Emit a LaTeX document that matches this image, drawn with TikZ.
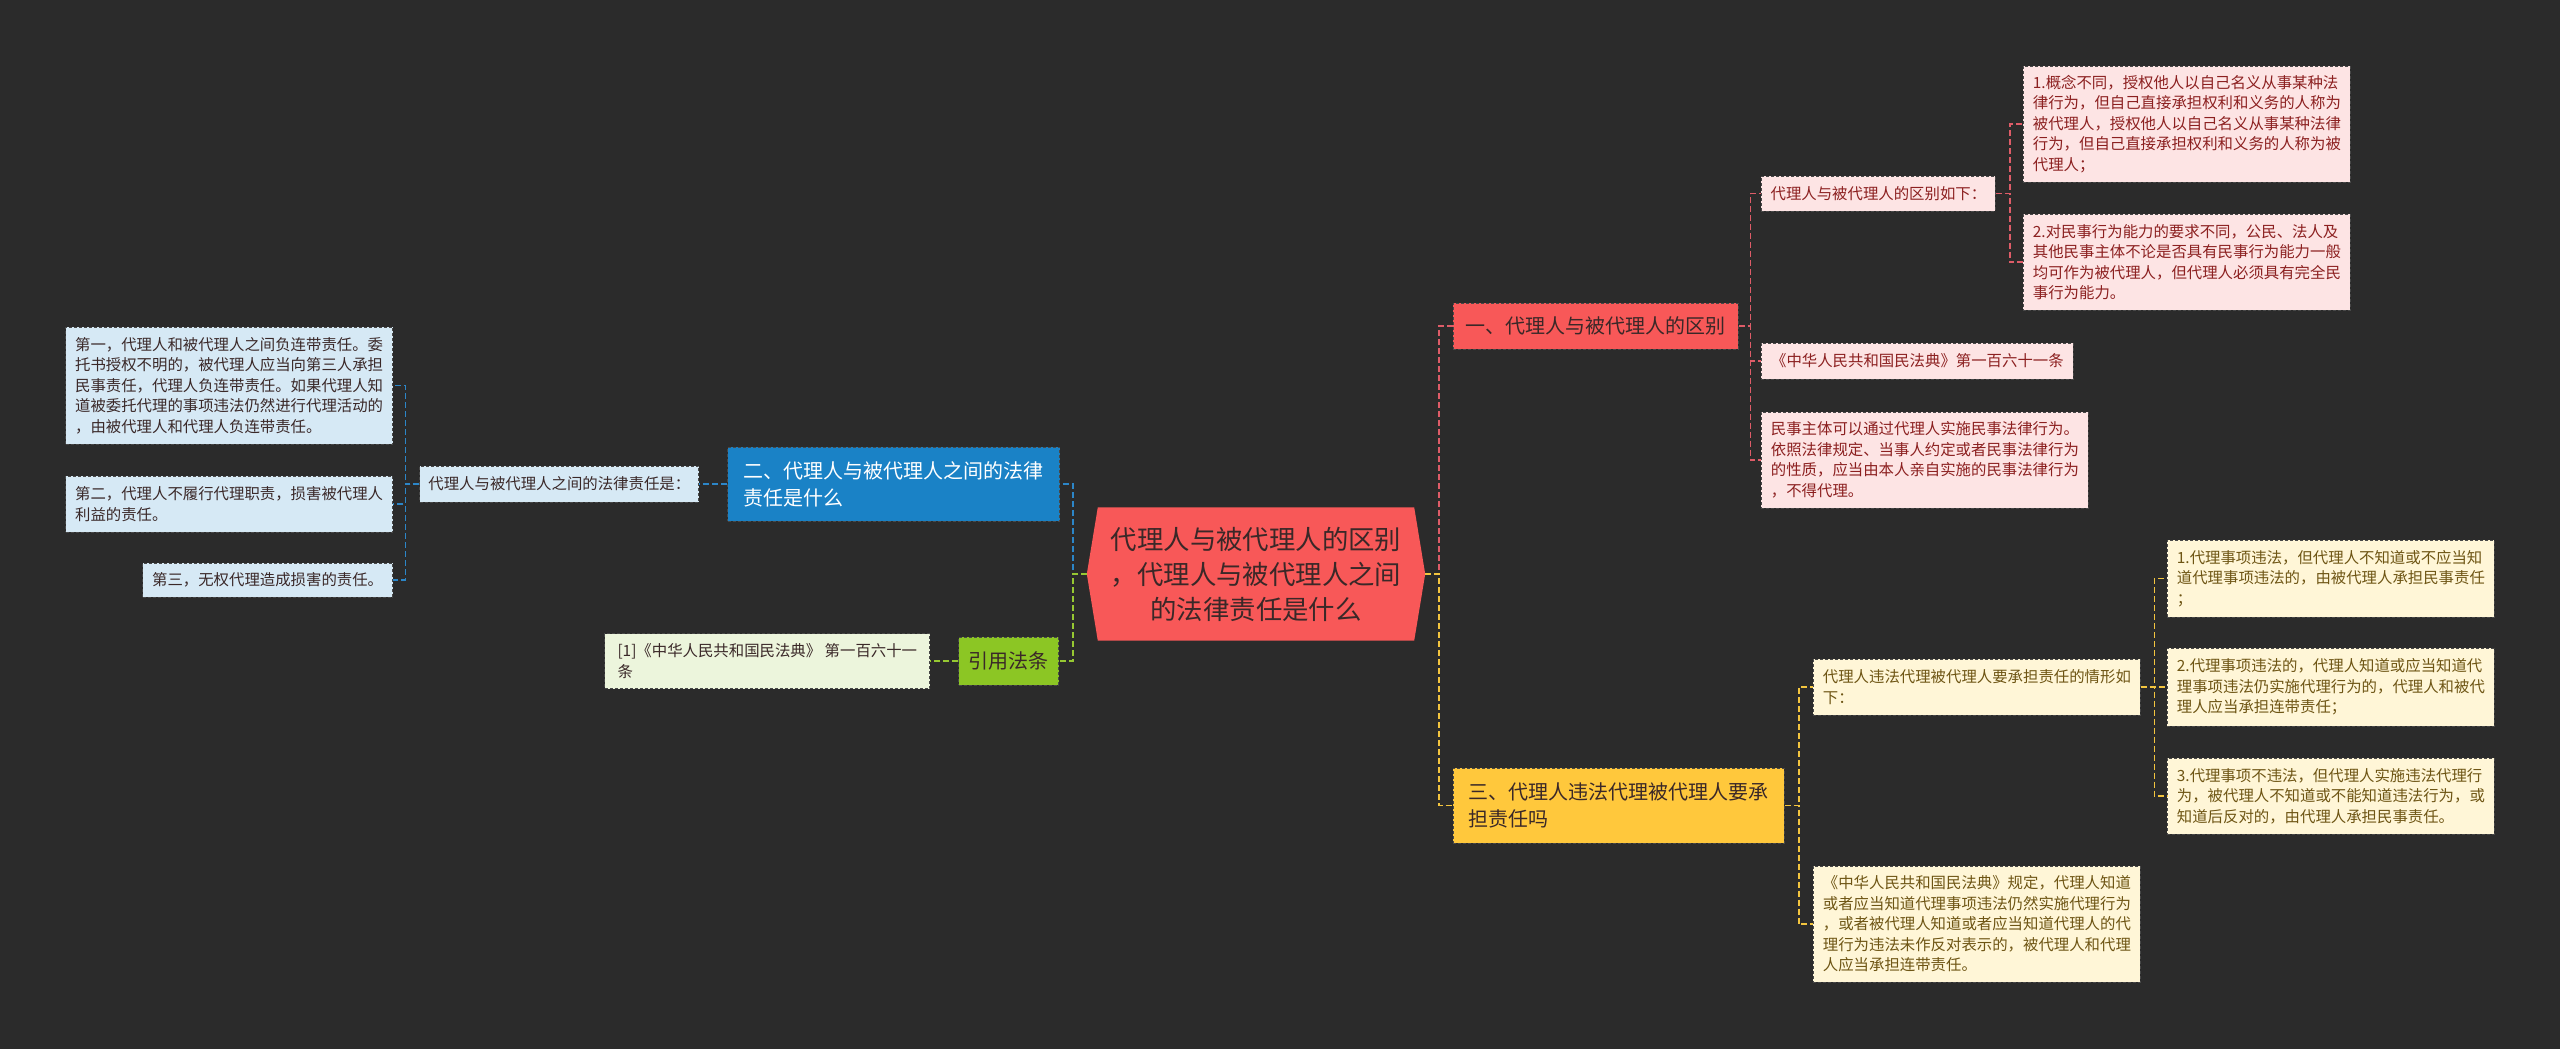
\documentclass[tikz,border=0pt]{standalone}
\usepackage{fontspec}
\setmainfont{Noto Sans CJK SC}
\usetikzlibrary{positioning}
\usetikzlibrary{backgrounds}
\definecolor{figFondo}{RGB}{43,43,43}
\definecolor{figTexto}{RGB}{58,40,40}
\definecolor{figBorde}{RGB}{72,72,72}
\definecolor{figRojo}{RGB}{248,88,88}
\definecolor{figRojoClaro}{RGB}{253,228,228}
\definecolor{figRojoTexto}{RGB}{140,32,32}
\definecolor{figRojoLinea}{RGB}{222,92,104}
\definecolor{figAzul}{RGB}{26,130,198}
\definecolor{figAzulClaro}{RGB}{214,233,245}
\definecolor{figAzulLinea}{RGB}{44,134,200}
\definecolor{figVerde}{RGB}{140,198,36}
\definecolor{figVerdeClaro}{RGB}{236,245,220}
\definecolor{figVerdeLinea}{RGB}{150,200,50}
\definecolor{figAmarillo}{RGB}{255,200,60}
\definecolor{figAmarilloClaro}{RGB}{255,246,215}
\definecolor{figAmarilloTexto}{RGB}{110,85,20}
\definecolor{figAmarilloLinea}{RGB}{243,197,63}
\tikzset{
  caja/.style={
    rectangle, draw=figBorde, dash pattern=on 3pt off 2pt, line width=0.8pt,
    align=left, inner sep=3pt
  },
  raiz/.style={
    rectangle, minimum width=338pt, minimum height=133pt, inner sep=2pt,
    align=center, text=figTexto, font=\fontsize{26.4}{35}\selectfont
  },
  rama/.style={caja, minimum height=46pt, text=figTexto, font=\fontsize{20}{27}\selectfont},
  ramar/.style={rama, fill=figRojo},
  ramaa/.style={rama, fill=figAzul, text=white},
  ramav/.style={rama, fill=figVerde},
  ramam/.style={rama, fill=figAmarillo},
  hoja/.style={caja, minimum width=327pt, font=\fontsize{15.4}{20.5}\selectfont},
  hojar/.style={hoja, fill=figRojoClaro, text=figRojoTexto},
  hojaa/.style={hoja, fill=figAzulClaro, text=figTexto},
  hojav/.style={hoja, fill=figVerdeClaro, text=figTexto},
  hojam/.style={hoja, fill=figAmarilloClaro, text=figAmarilloTexto},
  linea/.style={line width=1.5pt, dash pattern=on 6pt off 3pt},
  linear/.style={linea, draw=figRojoLinea},
  lineaa/.style={linea, draw=figAzulLinea},
  lineav/.style={linea, draw=figVerdeLinea},
  lineam/.style={linea, draw=figAmarilloLinea}
}
\begin{document}
\begin{tikzpicture}[x=1pt, y=-1pt]
  \useasboundingbox (0,0) rectangle (2560,1049);
  \begin{scope}[on background layer]
    \fill[figFondo] (0,0) rectangle (2560,1049);
  \end{scope}

  % Tema central
  \node[raiz] (raiz) at (1256,574) {代理人与被代理人的区别\\，代理人与被代理人之间\\的法律责任是什么};
  \begin{scope}[on background layer]
    \fill[figRojo] (raiz.west) -- ([xshift=11pt]raiz.north west) -- ([xshift=-11pt]raiz.north east)
      -- (raiz.east) -- ([xshift=-11pt]raiz.south east) -- ([xshift=11pt]raiz.south west) -- cycle;
  \end{scope}

  % Rama 1: diferencias
  \node[ramar, minimum width=285pt, anchor=west] (dif) at (1453,326) {一、代理人与被代理人的区别};
  \node[hojar, minimum width=234pt, minimum height=35pt, anchor=west] (difComo) at (1761,193.5) {代理人与被代理人的区别如下：};
  \node[hojar, minimum height=116pt, anchor=west] (difUno) at (2023,124)
        {1.概念不同，授权他人以自己名义从事某种法\\律行为，但自己直接承担权利和义务的人称为\\被代理人，授权他人以自己名义从事某种法律\\行为，但自己直接承担权利和义务的人称为被\\代理人；};
  \node[hojar, minimum height=96pt, anchor=west] (difDos) at (2023,262)
        {2.对民事行为能力的要求不同，公民、法人及\\其他民事主体不论是否具有民事行为能力一般\\均可作为被代理人，但代理人必须具有完全民\\事行为能力。};
  \node[hojar, minimum width=312pt, minimum height=36pt, anchor=west] (difLey) at (1761,361) {《中华人民共和国民法典》第一百六十一条};
  \node[hojar, minimum height=96pt, anchor=west] (difSujeto) at (1761,460)
        {民事主体可以通过代理人实施民事法律行为。\\依照法律规定、当事人约定或者民事法律行为\\的性质，应当由本人亲自实施的民事法律行为\\，不得代理。};

  \draw[linear] (raiz.east) -- ++(14,0) |- (dif.west);
  \draw[linear] (dif.east) -- ++(11.5,0) |- (difComo.west);
  \draw[linear] (dif.east) -- ++(11.5,0) |- (difLey.west);
  \draw[linear] (dif.east) -- ++(11.5,0) |- (difSujeto.west);
  \draw[linear] (difComo.east) -- ++(14,0) |- (difUno.west);
  \draw[linear] (difComo.east) -- ++(14,0) |- (difDos.west);

  % Rama 2: responsabilidad
  \node[ramaa, minimum width=332pt, minimum height=74pt, anchor=east] (resp) at (1060,484) {二、代理人与被代理人之间的法律\\责任是什么};
  \node[hojaa, minimum width=279pt, minimum height=36pt, left=28pt of resp] (respLista) {代理人与被代理人之间的法律责任是：};
  \node[hojaa, minimum height=117pt, anchor=east] (respUno) at (393,385.5)
        {第一，代理人和被代理人之间负连带责任。委\\托书授权不明的，被代理人应当向第三人承担\\民事责任，代理人负连带责任。如果代理人知\\道被委托代理的事项违法仍然进行代理活动的\\，由被代理人和代理人负连带责任。};
  \node[hojaa, minimum height=56pt, anchor=east] (respDos) at (393,504)
        {第二，代理人不履行代理职责，损害被代理人\\利益的责任。};
  \node[hojaa, minimum width=250pt, minimum height=34pt, anchor=east] (respTres) at (393,580) {第三，无权代理造成损害的责任。};

  \draw[lineaa] (raiz.west) -- ++(-14,0) |- (resp.east);
  \draw[lineaa] (resp.west) -- (respLista.east);
  \draw[lineaa] (respLista.west) -- ++(-14,0) |- (respUno.east);
  \draw[lineaa] (respLista.west) -- ++(-14,0) |- (respDos.east);
  \draw[lineaa] (respLista.west) -- ++(-14,0) |- (respTres.east);

  % Cita legal
  \node[ramav, minimum width=100pt, minimum height=48pt, anchor=east] (cita) at (1059,661) {引用法条};
  \node[hojav, minimum width=325pt, minimum height=55pt, left=28pt of cita] (citaLey) {[1]《中华人民共和国民法典》 第一百六十一\\条};

  \draw[lineav] (raiz.west) -- ++(-14,0) |- (cita.east);
  \draw[lineav] (cita.west) -- (citaLey.east);

  % Rama 3: representación ilegal
  \node[ramam, minimum width=331pt, minimum height=75pt, anchor=west] (ileg) at (1453,805.5) {三、代理人违法代理被代理人要承\\担责任吗};
  \node[hojam, minimum height=56pt, anchor=west] (ilegCasos) at (1813,687) {代理人违法代理被代理人要承担责任的情形如\\下：};
  \node[hojam, minimum height=77pt, anchor=west] (ilegUno) at (2167,578.5)
        {1.代理事项违法，但代理人不知道或不应当知\\道代理事项违法的，由被代理人承担民事责任\\；};
  \node[hojam, minimum height=78pt, anchor=west] (ilegDos) at (2167,687)
        {2.代理事项违法的，代理人知道或应当知道代\\理事项违法仍实施代理行为的，代理人和被代\\理人应当承担连带责任；};
  \node[hojam, minimum height=76pt, anchor=west] (ilegTres) at (2167,796)
        {3.代理事项不违法，但代理人实施违法代理行\\为，被代理人不知道或不能知道违法行为，或\\知道后反对的，由代理人承担民事责任。};
  \node[hojam, minimum height=116pt, anchor=west] (ilegLey) at (1813,924)
        {《中华人民共和国民法典》规定，代理人知道\\或者应当知道代理事项违法仍然实施代理行为\\，或者被代理人知道或者应当知道代理人的代\\理行为违法未作反对表示的，被代理人和代理\\人应当承担连带责任。};

  \draw[lineam] (raiz.east) -- ++(14,0) |- (ileg.west);
  \draw[lineam] (ileg.east) -- ++(14,0) |- (ilegCasos.west);
  \draw[lineam] (ileg.east) -- ++(14,0) |- (ilegLey.west);
  \draw[lineam] (ilegCasos.east) -- ++(13.5,0) |- (ilegUno.west);
  \draw[lineam] (ilegCasos.east) -- ++(13.5,0) |- (ilegDos.west);
  \draw[lineam] (ilegCasos.east) -- ++(13.5,0) |- (ilegTres.west);
\end{tikzpicture}
\end{document}
